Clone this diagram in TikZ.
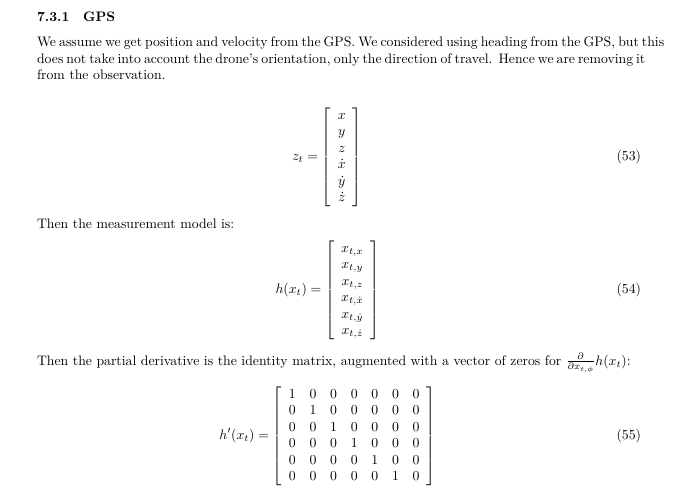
\documentclass[tikz,border=0pt]{standalone}
\usepackage{amsmath}
\usepackage{amssymb}
\usepackage{tikz}

\begin{document}
\begin{tikzpicture}[x=0.7273pt, y=-0.7273pt, every node/.style={inner sep=0pt, outer sep=0pt}]
        \useasboundingbox[fill=white] (0,0) rectangle (678,499);

        % heading
        \node[anchor=base west] (head) at (37,21.5) {\bfseries 7.3.1\quad GPS};

        % paragraph
        \node[anchor=base west] (parA) at (37,47) {\hbox to 439.3pt{We assume we get position and velocity from the GPS. We considered using heading from the GPS, but this}};
        \node[anchor=base west] (parB) at (37,63.5) {\hbox to 439.3pt{does not take into account the drone's orientation, only the direction of travel.\ \ Hence we are removing it}};
        \node[anchor=base west] (parC) at (37,80) {from the observation.};

        % observation vector
        \node[anchor=base] (eqz) at (327,160.5) {$\displaystyle z_t = \left[\begin{array}{c} x\\ y\\ z\\ \dot{x}\\ \dot{y}\\ \dot{z} \end{array}\right]$};
        \node[anchor=base east] (numz) at (641,160.5) {(53)};

        % measurement model
        \node[anchor=base west] (txtmodel) at (37,229) {Then the measurement model is:};
        \node[anchor=base] (eqh) at (327.5,293.5) {$\displaystyle h(x_t) = \left[\begin{array}{c} x_{t,x}\\ x_{t,y}\\ x_{t,z}\\ x_{t,\dot{x}}\\ x_{t,\dot{y}}\\ x_{t,\dot{z}} \end{array}\right]$};
        \node[anchor=base east] (numh) at (641,293.5) {(54)};

        % jacobian
        \node[anchor=base west] (txtjac) at (37,365) {Then the partial derivative is the identity matrix, augmented with a vector of zeros for $\frac{\partial}{\partial x_{t,\phi}}h(x_t)$:};
        \node[anchor=base] (eqjac) at (327.5,439.5) {$\displaystyle h'(x_t) = \left[\begin{array}{ccccccc}
            1 & 0 & 0 & 0 & 0 & 0 & 0\\
            0 & 1 & 0 & 0 & 0 & 0 & 0\\
            0 & 0 & 1 & 0 & 0 & 0 & 0\\
            0 & 0 & 0 & 1 & 0 & 0 & 0\\
            0 & 0 & 0 & 0 & 1 & 0 & 0\\
            0 & 0 & 0 & 0 & 0 & 1 & 0
          \end{array}\right]$};
        \node[anchor=base east] (numjac) at (641,439.5) {(55)};
    \end{tikzpicture}
\end{document}
